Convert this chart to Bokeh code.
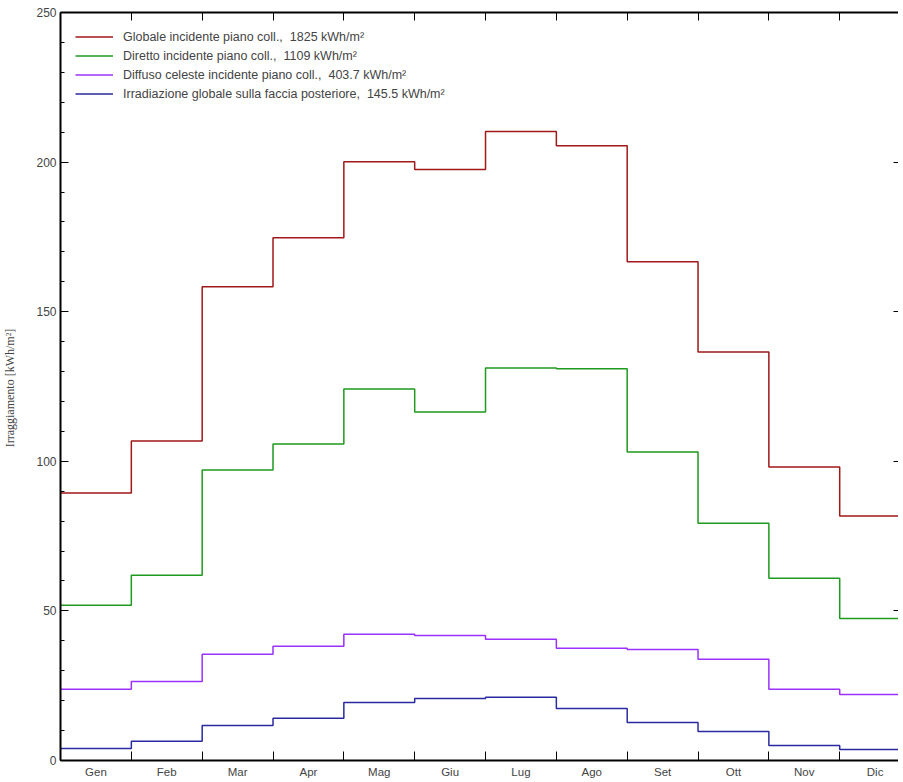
from bokeh.plotting import figure
from bokeh.models import Range1d, LinearAxis, FixedTicker, SingleIntervalTicker, CustomJSTickFormatter, Legend
from bokeh.embed import file_html
from bokeh.resources import INLINE

months = ["Gen", "Feb", "Mar", "Apr", "Mag", "Giu", "Lug", "Ago", "Set", "Ott", "Nov", "Dic"]
globale = [89.4, 106.8, 158.3, 174.7, 200.1, 197.5, 210.2, 205.5, 166.7, 136.5, 98.1, 81.7]
diretto = [51.9, 61.9, 97.1, 105.8, 124.2, 116.5, 131.2, 130.9, 103.1, 79.3, 60.9, 47.5]
diffuso = [23.8, 26.4, 35.5, 38.2, 42.2, 41.8, 40.5, 37.5, 37.1, 33.8, 23.8, 22.1]
posteriore = [4.0, 6.4, 11.7, 14.1, 19.4, 20.7, 21.1, 17.4, 12.7, 9.7, 5.0, 3.7]
labels = [
    "Globale incidente piano coll.,  1825 kWh/m²",
    "Diretto incidente piano coll.,  1109 kWh/m²",
    "Diffuso celeste incidente piano coll.,  403.7 kWh/m²",
    "Irradiazione globale sulla faccia posteriore,  145.5 kWh/m²",
]
colors = ["#A01818", "#1E9A1E", "#9B30FF", "#2A2AA0"]
series = [globale, diretto, diffuso, posteriore]

p = figure(width=898, height=780, output_backend="svg", toolbar_location=None,
           x_range=Range1d(0, 11.83), y_range=Range1d(0, 250),
           x_axis_location=None, y_axis_location=None,
           min_border_left=55, min_border_top=12, min_border_bottom=0, min_border_right=0)
p.outline_line_color = None
p.xgrid.visible = False
p.ygrid.visible = False
p.background_fill_color = "white"

FONT = "Liberation Sans"
xs = list(range(13))
renderers = []
for vals, col, lab in zip(series, colors, labels):
    r = p.step(x=xs, y=vals + [vals[-1]], mode="after", line_color=col, line_width=1.5)
    renderers.append((lab, [r]))

# left axis
left = LinearAxis(ticker=SingleIntervalTicker(interval=50, num_minor_ticks=5))
left.axis_line_width = 2
left.major_tick_in = 8
left.major_tick_out = 0
left.minor_tick_in = 4
left.minor_tick_out = 0
left.major_label_text_font = FONT
left.major_label_text_font_size = "12px"
left.major_label_standoff = 4
left.axis_label = "Irraggiamento  [kWh/m²]"
left.axis_label_text_font = "Liberation Serif"
left.axis_label_text_font_style = "normal"
left.axis_label_text_font_size = "12px"
left.axis_label_standoff = 16
p.add_layout(left, "left")

centers = [i + 0.5 for i in range(12)]
bounds = list(range(13))

bottom = LinearAxis(ticker=FixedTicker(ticks=centers, minor_ticks=bounds))
bottom.major_label_overrides = {c: m for c, m in zip(centers, months)}
bottom.axis_line_width = 2
bottom.major_tick_in = 0
bottom.major_tick_out = 0
bottom.minor_tick_in = 9
bottom.minor_tick_out = 0
bottom.major_label_text_font = FONT
bottom.major_label_text_font_size = "11.5px"
bottom.major_label_standoff = 5
p.add_layout(bottom, "below")

top = LinearAxis(ticker=FixedTicker(ticks=[], minor_ticks=bounds))
top.axis_line_width = 2
top.minor_tick_in = 8
top.minor_tick_out = 0
top.major_tick_in = 0
top.major_tick_out = 0
top.formatter = CustomJSTickFormatter(code="return ''")
top.major_label_text_font_size = "0px"
top.major_label_standoff = 0
p.add_layout(top, "above")

right = LinearAxis(ticker=SingleIntervalTicker(interval=50, num_minor_ticks=0))
right.axis_line_color = None
right.major_tick_in = 5
right.major_tick_out = 0
right.minor_tick_in = 0
right.minor_tick_out = 0
right.formatter = CustomJSTickFormatter(code="return ''")
right.major_label_text_font_size = "0px"
right.major_label_standoff = 0
p.add_layout(right, "right")

legend = Legend(items=renderers, location="top_left")
legend.margin = 15
legend.padding = 15
legend.spacing = 0
legend.glyph_width = 38
legend.glyph_height = 19
legend.label_height = 19
legend.label_standoff = 10
legend.label_text_font = FONT
legend.label_text_font_size = "12.5px"
legend.border_line_color = None
legend.background_fill_alpha = 0
p.add_layout(legend, "center")

open("out.html", "w").write(file_html(p, INLINE))
